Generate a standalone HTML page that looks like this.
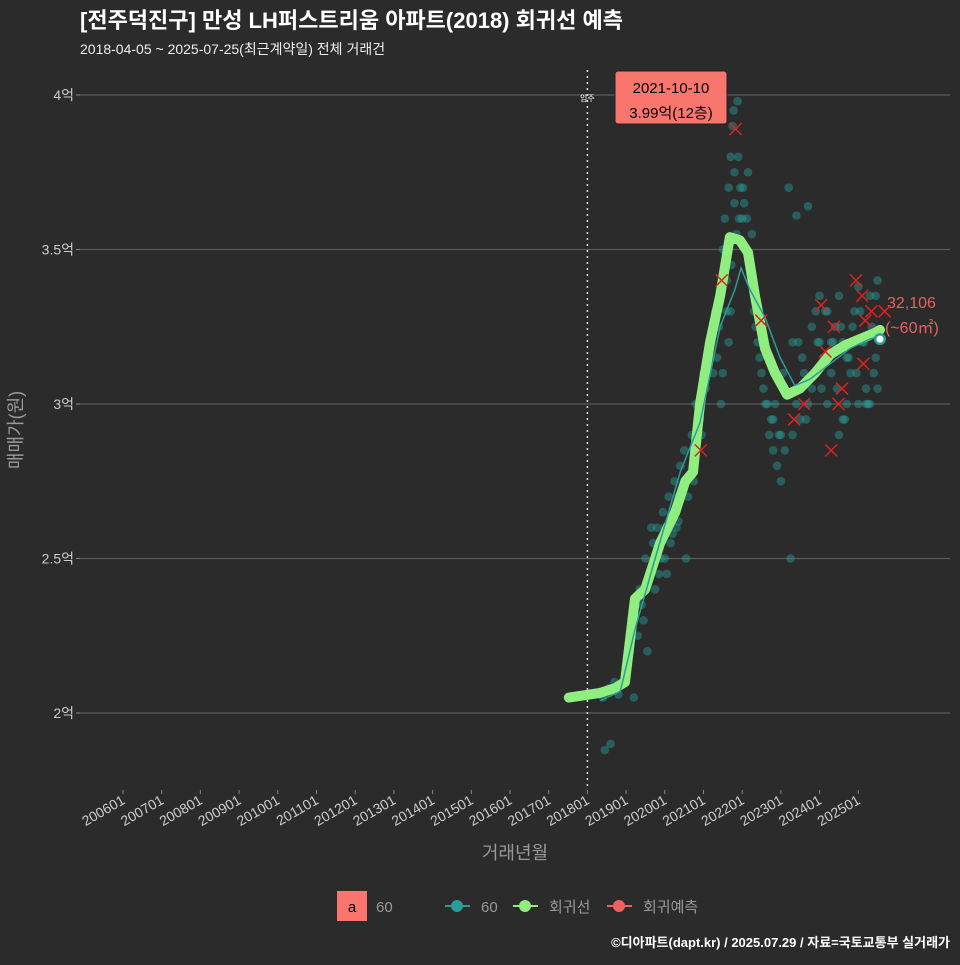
<!DOCTYPE html>
<html><head><meta charset="utf-8"><style>
body{margin:0;background:#2b2b2b;}
svg text{font-family:"Liberation Sans","Noto Sans CJK KR",sans-serif;}
</style></head><body>
<svg id="c" width="960" height="960" xmlns="http://www.w3.org/2000/svg">
<rect width="960" height="960" fill="#2b2b2b"/>
<text x="80" y="28" font-size="22" font-weight="bold" fill="#fff">[전주덕진구] 만성 LH퍼스트리움 아파트(2018) 회귀선 예측</text>
<text x="80" y="54" font-size="14" fill="#eee">2018-04-05 ~ 2025-07-25(최근계약일) 전체 거래건</text>
<g id="grid"></g><g id="pts"></g><g id="lines"></g><g id="xs"></g><g id="axes"></g>
<text x="515" y="859" font-size="18" fill="#999" text-anchor="middle">거래년월</text>
<text transform="translate(22,430) rotate(-90)" font-size="18" fill="#999" text-anchor="middle">매매가(원)</text>
<g>
<rect x="337" y="891" width="30" height="30" fill="#f8766d"/>
<text x="352" y="912" font-size="15" fill="#000" text-anchor="middle">a</text>
<text x="376" y="912" font-size="15" fill="#999">60</text>
<g><line x1="445" y1="906" x2="470" y2="906" stroke="#2a9d9a" stroke-width="2"/><circle cx="457" cy="906" r="6" fill="#2a9d9a"/><text x="481" y="912" font-size="15" fill="#999">60</text></g>
<g><line x1="513" y1="906" x2="538" y2="906" stroke="#90ee80" stroke-width="2"/><circle cx="525" cy="906" r="6" fill="#90ee80"/><text x="549" y="912" font-size="15" fill="#999">회귀선</text></g>
<g><line x1="607" y1="906" x2="632" y2="906" stroke="#f06060" stroke-width="2"/><circle cx="619" cy="906" r="6" fill="#f06060"/><text x="643" y="912" font-size="15" fill="#999">회귀예측</text></g>
</g>
<text x="950" y="947" font-size="13" font-weight="bold" fill="#fff" text-anchor="end">©디아파트(dapt.kr) / 2025.07.29 / 자료=국토교통부 실거래가</text>
</svg>
<script>
const yTicks=[2,2.5,3,3.5,4];
const yTickLabels=["2억","2.5억","3억","3.5억","4억"];
const xTickYears=[2006,2007,2008,2009,2010,2011,2012,2013,2014,2015,2016,2017,2018,2019,2020,2021,2022,2023,2024,2025];
const xTickLabels=["200601","200701","200801","200901","201001","201101","201201","201301","201401","201501","201601","201701","201801","201901","202001","202101","202201","202301","202401","202501"];
const trendT=[2017.52,2018.33,2018.71,2018.97,2019.23,2019.49,2019.88,2020.27,2020.53,2020.73,2020.91,2021.17,2021.43,2021.68,2021.94,2022.15,2022.33,2022.59,2022.85,2023.16,2023.49,2023.88,2024.27,2024.66,2025.04,2025.43,2025.56];
const trendV=[2.05,2.065,2.08,2.1,2.37,2.4,2.55,2.65,2.75,2.78,3.0,3.2,3.35,3.54,3.53,3.49,3.35,3.18,3.1,3.03,3.05,3.1,3.16,3.19,3.21,3.23,3.24];
const avgT=[2018.33,2018.85,2019.23,2019.75,2020.4,2020.91,2021.43,2021.81,2021.97,2022.2,2022.59,2022.98,2023.36,2023.75,2024.27,2024.79,2025.3,2025.56];
const avgV=[2.04,2.07,2.27,2.5,2.78,2.94,3.25,3.37,3.44,3.37,3.28,3.15,3.06,3.08,3.13,3.18,3.21,3.22];
const dealT=[2018.4,2018.5,2018.6,2018.7,2018.8,2018.45,2018.55,2018.9,2019.0,2019.1,2019.2,2019.3,2019.35,2019.4,2019.5,2019.55,2019.6,2019.7,2019.75,2019.8,2019.9,2019.95,2020.0,2020.05,2020.1,2020.15,2020.2,2020.25,2020.3,2020.35,2020.4,2020.5,2020.6,2020.7,2020.8,2020.9,2021.0,2021.1,2021.2,2021.3,2021.4,2021.5,2021.55,2021.6,2021.65,2021.7,2021.7,2021.75,2021.8,2021.8,2021.85,2021.9,2021.95,2022.0,2022.05,2022.1,2022.15,2022.2,2022.3,2022.4,2022.5,2022.6,2022.7,2022.8,2022.85,2022.9,2023.0,2023.05,2023.1,2023.2,2023.25,2023.3,2023.4,2023.5,2023.6,2023.7,2023.8,2023.9,2024.0,2024.1,2024.2,2024.3,2024.4,2024.5,2024.6,2024.7,2024.8,2024.9,2025.0,2025.1,2025.2,2025.3,2025.4,2025.5,2023.7,2024.0,2024.3,2024.6,2024.9,2025.2,2025.45,2023.4,2024.5,2025.0,
2019.0,2019.2,2019.45,2019.65,2019.85,2020.0,2020.2,2020.35,2020.55,2020.75,2020.95,2021.05,2021.25,2021.35,2021.45,2021.6,2021.72,2021.78,2021.88,2021.92,2022.02,2022.12,2022.25,2022.35,2022.45,2022.55,2022.65,2022.75,2022.95,2023.1,2023.3,2023.45,2023.55,2023.65,2023.85,2023.95,2024.05,2024.15,2024.25,2024.35,2024.45,2024.55,2024.65,2024.75,2024.85,2024.95,2025.05,2025.15,2025.25,2025.35,2025.45,2025.5,2023.8,2024.2,2024.7,2025.3,2023.0,2022.8,2021.65,2021.5];
const dealV=[2.05,2.07,1.9,2.1,2.06,1.88,2.08,2.1,2.12,2.2,2.3,2.25,2.4,2.35,2.5,2.2,2.45,2.55,2.4,2.6,2.5,2.65,2.6,2.45,2.7,2.55,2.65,2.75,2.6,2.7,2.8,2.85,2.7,2.9,3.0,2.95,3.1,3.15,3.2,3.3,3.25,3.5,3.6,3.4,3.7,3.8,3.3,3.9,3.65,3.75,3.55,3.8,3.7,3.6,3.65,3.5,3.75,3.45,3.3,3.2,3.1,3.0,2.9,2.85,3.0,2.8,2.9,3.1,2.85,3.7,2.5,3.2,3.0,2.95,3.1,3.0,3.05,3.3,3.2,3.15,3.0,3.1,3.25,3.35,3.2,3.0,3.1,3.3,3.0,3.2,3.05,3.35,3.1,3.4,3.64,3.35,3.2,2.95,3.2,3.0,3.15,3.61,2.9,3.38,
2.15,2.05,2.3,2.6,2.45,2.5,2.58,2.62,2.5,2.75,2.9,3.05,3.1,3.15,3.0,3.3,3.45,3.95,3.98,3.6,3.7,3.6,3.55,3.25,3.15,3.05,3.0,2.95,2.9,3.05,2.9,3.2,3.15,2.95,3.1,3.2,3.05,3.3,3.15,3.2,3.05,3.25,2.95,3.15,3.25,3.1,3.3,3.2,3.0,3.25,3.35,3.05,3.25,3.3,3.15,3.0,2.75,2.95,3.2,3.1];
const fcT=[2021.83,2021.47,2022.49,2024.94,2025.1,2024.04,2025.34,2025.68,2024.37,2025.18,2024.15,2025.13,2024.58,2023.6,2024.49,2023.34,2024.3,2020.93];
const fcV=[3.89,3.40,3.27,3.40,3.35,3.32,3.30,3.30,3.25,3.27,3.17,3.13,3.05,3.0,3.0,2.95,2.85,2.85];
const X=t=>123+(t-2006)*38.7, Y=v=>713-(v-2)*309;
const NS="http://www.w3.org/2000/svg";
function mk(tag,attrs,parent,txt){const e=document.createElementNS(NS,tag);for(const k in attrs)e.setAttribute(k,attrs[k]);if(txt!=null)e.textContent=txt;document.getElementById(parent).appendChild(e);return e;}
yTicks.forEach((v,i)=>{
 const g=mk('line',{x1:80,x2:950,y1:Y(v),y2:Y(v),stroke:'#5a5a5a','stroke-width':1.2},'grid');
 
 
 const t=mk('text',{x:74,y:Y(v)+5,'font-size':14,fill:'#ccc','text-anchor':'end'},'axes',yTickLabels[i]);
 
 
 mk('line',{x1:76,x2:80,y1:Y(v),y2:Y(v),stroke:'#888'},'axes');
});
xTickYears.forEach((yr,i)=>{
 const x=X(yr);
 mk('line',{x1:x,x2:x,y1:790,y2:794,stroke:'#888'},'axes');
 const t=mk('text',{transform:`translate(${x+3},${803}) rotate(-30)`,'font-size':14,fill:'#ccc','text-anchor':'end'},'axes',xTickLabels[i]);
 
 
});
const mv=mk('line',{x1:X(2018),x2:X(2018),y1:70,y2:790,stroke:'#ddd','stroke-width':1.5,'stroke-dasharray':'2,4'},'grid');


mk('text',{x:X(2018),y:101,'font-size':8,fill:'#fff','text-anchor':'middle'},'grid','입주');
dealT.forEach((t,i)=>{
 const c=mk('circle',{cx:X(t),cy:Y(dealV[i]),r:4.3,fill:'#2a9d9a','fill-opacity':0.45},'pts');
 
 
});
fcT.forEach((t,i)=>{
 const x=X(t),y=Y(fcV[i]);
 const p=mk('path',{d:`M${x-6},${y-6}L${x+6},${y+6}M${x+6},${y-6}L${x-6},${y+6}`,stroke:'#e02020','stroke-width':1.5},'xs');
 
 
});
const tl=mk('polyline',{points:trendT.map((t,i)=>X(t)+','+Y(trendV[i])).join(' '),fill:'none',stroke:'#90ee80','stroke-width':10,'stroke-linejoin':'round','stroke-linecap':'round'},'lines');


const al=mk('polyline',{points:avgT.map((t,i)=>X(t)+','+Y(avgV[i])).join(' '),fill:'none',stroke:'#2a9d9a','stroke-width':1.5},'lines');


mk('circle',{cx:X(2025.56),cy:Y(3.21),r:6,fill:'#2a9d9a'},'lines');
mk('circle',{cx:X(2025.56),cy:Y(3.21),r:3.5,fill:'#fff'},'lines');
const ab=mk('rect',{x:615,y:71,width:112,height:53,rx:3,fill:'#f8766d',stroke:'#222'},'lines');


mk('text',{x:671,y:93,'font-size':15,fill:'#000','text-anchor':'middle'},'lines','2021-10-10');
mk('text',{x:671,y:118,'font-size':15,fill:'#000','text-anchor':'middle'},'lines','3.99억(12층)');
const l1=mk('text',{x:887,y:308,'font-size':16,fill:'#e86060'},'lines','32,106');


mk('text',{x:885,y:333,'font-size':16,fill:'#e86060'},'lines','(~60㎡)');
</script>
</body></html>
